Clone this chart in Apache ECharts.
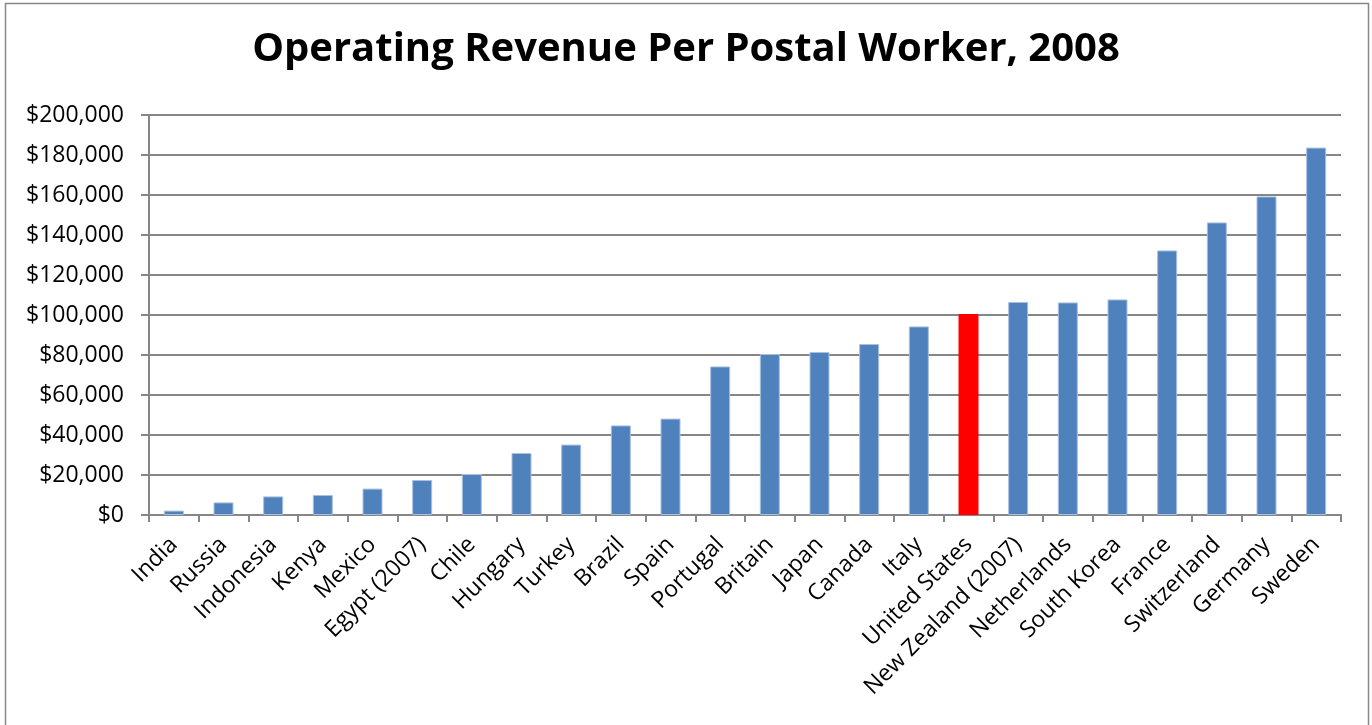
<!DOCTYPE html>
<html>
<head>
<meta charset="utf-8">
<script src="https://cdn.jsdelivr.net/npm/echarts@6/dist/echarts.min.js"></script>
<style>
html,body{margin:0;padding:0;background:#fff;}
#c{width:1372px;height:725px;}
</style>
</head>
<body>
<div id="c"></div>
<script>
const categories = ["India","Russia","Indonesia","Kenya","Mexico","Egypt (2007)","Chile","Hungary","Turkey","Brazil","Spain","Portugal","Britain","Japan","Canada","Italy","United States","New Zealand (2007)","Netherlands","South Korea","France","Switzerland","Germany","Sweden"];
const revenue = [2200,6300,9300,10000,13200,17500,20500,31000,35200,44800,48200,74300,80500,81500,85500,94300,100500,106500,106300,107800,132300,146300,159300,183700];
const highlightCountry = "United States";
const yTicks = {min:0, max:200000, interval:20000};

const chart = echarts.init(document.getElementById('c'));
const FONT = '"Open Sans", "Noto Sans", sans-serif';
chart.setOption({
  animation:false,
  title:{
    text:'Operating Revenue Per Postal Worker, 2008',
    left:'center', top:25,
    textStyle:{fontFamily:FONT, fontWeight:'bold', fontSize:40, color:'#000'}
  },
  graphic:[{type:'rect', shape:{x:5.5,y:3.5,width:1363,height:740}, style:{fill:'none', stroke:'#888', lineWidth:1.5}, silent:true}],
  grid:{left:149, right:31, top:115, bottom:210, containLabel:false},
  xAxis:{
    type:'category', data:categories,
    axisLine:{lineStyle:{color:'#868686', width:2}},
    axisTick:{show:true, length:7, lineStyle:{color:'#868686', width:2}},
    axisLabel:{rotate:45, margin:26, interval:0, fontFamily:FONT, fontSize:23, color:'#000'}
  },
  yAxis:{
    type:'value', min:yTicks.min, max:yTicks.max, interval:yTicks.interval,
    axisLine:{show:true, lineStyle:{color:'#868686', width:2}},
    axisTick:{show:true, length:8, lineStyle:{color:'#868686', width:2}},
    splitLine:{lineStyle:{color:'#868686', width:2}},
    axisLabel:{margin:25, fontFamily:FONT, fontSize:23, color:'#000',
      formatter:v=>'$'+v.toLocaleString('en-US')}
  },
  series:[{
    type:'bar', barWidth:20,
    data:revenue.map((v,i)=>({value:v, itemStyle:{color: categories[i]===highlightCountry ? '#FF0000' : '#4F81BD', borderColor: categories[i]===highlightCountry ? '#FF0000' : '#A9C1DF', borderWidth:1}}))
  }]
});
</script>
</body>
</html>
